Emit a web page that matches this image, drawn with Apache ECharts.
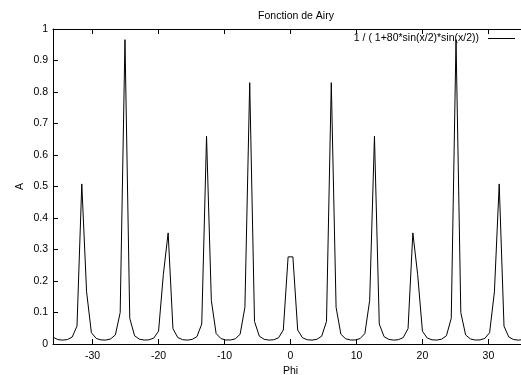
<!DOCTYPE html>
<html>
<head>
<meta charset="utf-8">
<script src="https://cdn.jsdelivr.net/npm/echarts@6/dist/echarts.min.js"></script>
<style>
html,body{margin:0;padding:0;background:#fff;overflow:hidden;}
#chart{width:521px;height:375px;}
</style>
</head>
<body>
<div id="chart"></div>
<script>
// Sample positions (Phi) and values (A)
var phi = [
  -36.000, -35.273, -34.545, -33.818, -33.091, -32.364, -31.636, -30.909, -30.182, -29.455,
  -28.727, -28.000, -27.273, -26.545, -25.818, -25.091, -24.364, -23.636, -22.909, -22.182,
  -21.455, -20.727, -20.000, -19.273, -18.545, -17.818, -17.091, -16.364, -15.636, -14.909,
  -14.182, -13.455, -12.727, -12.000, -11.273, -10.545, -9.818, -9.091, -8.364, -7.636,
  -6.909, -6.182, -5.455, -4.727, -4.000, -3.273, -2.545, -1.818, -1.091, -0.364,
  0.364, 1.091, 1.818, 2.545, 3.273, 4.000, 4.727, 5.455, 6.182, 6.909,
  7.636, 8.364, 9.091, 9.818, 10.545, 11.273, 12.000, 12.727, 13.455, 14.182,
  14.909, 15.636, 16.364, 17.091, 17.818, 18.545, 19.273, 20.000, 20.727, 21.455,
  22.182, 22.909, 23.636, 24.364, 25.091, 25.818, 26.545, 27.273, 28.000, 28.727,
  29.455, 30.182, 30.909, 31.636, 32.364, 33.091, 33.818, 34.545, 35.273, 36.000
];
var amplitude = [
  0.02168, 0.01405, 0.01235, 0.01417, 0.02214, 0.05663, 0.50815, 0.16587, 0.03599, 0.01778,
  0.01299, 0.01258, 0.01599, 0.02882, 0.09966, 0.96618, 0.08157, 0.02630, 0.01531, 0.01246,
  0.01327, 0.01884, 0.04052, 0.22084, 0.35268, 0.04889, 0.02063, 0.01375, 0.01236, 0.01451,
  0.02337, 0.06343, 0.65937, 0.13801, 0.03327, 0.01712, 0.01283, 0.01269, 0.01653, 0.03090,
  0.11652, 0.82961, 0.07161, 0.02475, 0.01489, 0.01240, 0.01350, 0.01969, 0.04438, 0.27659,
  0.27659, 0.04438, 0.01969, 0.01350, 0.01240, 0.01489, 0.02475, 0.07161, 0.82961, 0.11652,
  0.03090, 0.01653, 0.01269, 0.01283, 0.01712, 0.03327, 0.13801, 0.65937, 0.06343, 0.02337,
  0.01451, 0.01236, 0.01375, 0.02063, 0.04889, 0.35268, 0.22084, 0.04052, 0.01884, 0.01327,
  0.01246, 0.01531, 0.02630, 0.08157, 0.96618, 0.09966, 0.02882, 0.01599, 0.01258, 0.01299,
  0.01778, 0.03599, 0.16587, 0.50815, 0.05663, 0.02214, 0.01417, 0.01235, 0.01405, 0.02168
];
var xTicks = [-30, -20, -10, 0, 10, 20, 30];
var seriesName = '1 / ( 1+80*sin(x/2)*sin(x/2))';
var titleText = 'Fonction de Airy';

var points = phi.map(function (x, i) { return [x, amplitude[i]]; });
var font = 'Liberation Sans, Arial, Helvetica, sans-serif';

var chart = echarts.init(document.getElementById('chart'), null, {renderer: 'canvas'});
chart.setOption({
  backgroundColor: '#fff',
  animation: false,
  title: {
    text: titleText,
    left: 291, top: 6,
    textAlign: 'center',
    textStyle: {fontFamily: font, fontSize: 10.5, fontWeight: 'normal', color: '#000'}
  },
  legend: {
    right: 6, top: 33,
    align: 'right',
    icon: 'rect',
    itemWidth: 27, itemHeight: 1, itemGap: 5,
    padding: 0,
    textStyle: {fontFamily: font, fontSize: 10.5, color: '#000', padding: [0, 4, 0, 0]},
    data: [seriesName]
  },
  grid: {left: 53, top: 29, width: 475, height: 315, containLabel: false, outerBoundsMode: 'none'},
  xAxis: [{
    type: 'value', min: -36, max: 36,
    name: 'Phi', nameLocation: 'middle', nameGap: 22, nameMoveOverlap: false,
    nameTextStyle: {fontFamily: font, fontSize: 10.5, color: '#000'},
    axisLine: {show: true, onZero: false, lineStyle: {color: '#000', width: 1}},
    axisTick: {show: true, inside: true, length: 5, customValues: xTicks, lineStyle: {color: '#000'}},
    axisLabel: {show: true, customValues: xTicks, margin: 7, fontFamily: font, fontSize: 10.5, color: '#000'},
    splitLine: {show: false}
  }, {
    type: 'value', min: -36, max: 36, position: 'top',
    axisLine: {show: true, onZero: false, lineStyle: {color: '#000', width: 1}},
    axisTick: {show: true, inside: true, length: 5, customValues: xTicks, lineStyle: {color: '#000'}},
    axisLabel: {show: false},
    splitLine: {show: false}
  }],
  yAxis: {
    type: 'value', min: 0, max: 1, interval: 0.1,
    name: 'A', nameLocation: 'middle', nameGap: 27, nameMoveOverlap: false,
    nameTextStyle: {fontFamily: font, fontSize: 10.5, color: '#000'},
    axisLine: {show: true, onZero: false, lineStyle: {color: '#000', width: 1}},
    axisTick: {show: true, inside: true, length: 5, lineStyle: {color: '#000'}},
    axisLabel: {margin: 5, fontFamily: font, fontSize: 10.5, color: '#000',
      formatter: function (v) { return String(Math.round(v * 10) / 10); }},
    splitLine: {show: false}
  },
  series: [{
    name: seriesName,
    type: 'line',
    data: points,
    symbol: 'none',
    showSymbol: false,
    clip: true,
    lineStyle: {color: '#000', width: 1},
    itemStyle: {color: '#000'}
  }]
});
</script>
</body>
</html>
